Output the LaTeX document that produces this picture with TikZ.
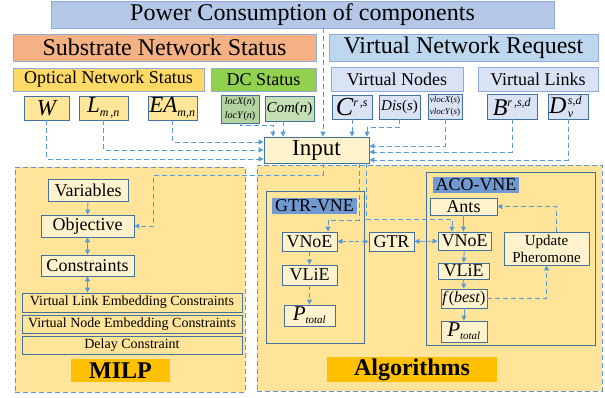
\documentclass[tikz,border=0pt]{standalone}
\usepackage{fontspec}
\setmainfont{Liberation Serif}
\usetikzlibrary{arrows.meta}
\definecolor{titlebl}{HTML}{B4C7E7}
\definecolor{orng}{HTML}{F4B183}
\definecolor{vnr}{HTML}{BDD7EE}
\definecolor{ylw}{HTML}{FFD966}
\definecolor{grn}{HTML}{92D050}
\definecolor{lbl}{HTML}{DAE3F3}
\definecolor{lylw}{HTML}{FFE699}
\definecolor{lgrn}{HTML}{C5E0B4}
\definecolor{mgrn}{HTML}{B3D3A0}
\definecolor{cream}{HTML}{FFF2CC}
\definecolor{regfill}{HTML}{FFE499}
\definecolor{gold}{HTML}{FFC000}
\definecolor{steel}{HTML}{7199D1}
\definecolor{edge}{HTML}{5B9BD5}
\definecolor{bord}{HTML}{41719C}
\definecolor{lbord}{HTML}{8FAADC}
\newcommand\mybox[7]{\node[#1, inner sep=0pt, minimum width=#5pt-#3pt, minimum height=#6pt-#4pt] (#2) at ({(#3+#5)/2},{(#4+#6)/2}) {#7};}
\newcommand\fs[1]{\fontsize{#1}{#1}\selectfont}
\tikzset{
  bx/.style={draw=bord, line width=0.8pt, align=center},
  bigbx/.style={draw=lbord, line width=0.8pt, font=\fs{24}},
  midbx/.style={draw=lbord, line width=0.8pt, font=\fs{18}},
  region/.style={draw=edge!80!gray, line width=1pt, dash pattern=on 5pt off 3pt, fill=regfill},
  tip/.style={-{Triangle[length=5pt,width=5pt]}},
  dl/.style={draw=edge, line width=0.9pt, dash pattern=on 5pt off 3pt, tip},
  sl/.style={draw=edge, line width=0.9pt, tip},
  dsl/.style={draw=edge, line width=0.9pt, {Triangle[length=5pt,width=5pt]}-{Triangle[length=5pt,width=5pt]}},
  ddl/.style={draw=edge, line width=0.9pt, dash pattern=on 4pt off 2.5pt, {Triangle[length=5pt,width=5pt]}-{Triangle[length=5pt,width=5pt]}},
}
\begin{document}
\begin{tikzpicture}[x=1pt,y=-1pt]
\useasboundingbox (0,0) rectangle (605,397);
% top
\mybox{bigbx, fill=titlebl}{title}{51}{1}{554}{28}{Power Consumption of components}
\mybox{bigbx, fill=orng}{sns}{13}{34}{316}{61}{Substrate Network Status}
\mybox{bigbx, fill=vnr}{vnr}{329}{34}{598}{61}{Virtual Network Request}
\mybox{midbx, fill=ylw}{ons}{13}{68}{204}{91}{Optical Network Status}
\mybox{midbx, fill=grn}{dcs}{211}{68}{316}{91}{DC Status}
\mybox{midbx, fill=lbl}{vn}{331}{67}{463}{91}{Virtual Nodes}
\mybox{midbx, fill=lbl}{vl}{478}{67}{598}{91}{Virtual Links}
% parameters
\mybox{bx, fill=lylw, font=\fs{23}\itshape}{W}{24}{96}{69}{120}{W}
\mybox{bx, fill=lylw, font=\fs{23}\itshape}{L}{79}{96}{128}{120}{L\textsubscript{\fs{12}m\,,n}}
\mybox{bx, fill=lylw, font=\fs{23}\itshape}{EA}{148}{96}{197}{120}{EA\textsubscript{\fs{12}m,n}}
\mybox{bx, fill=mgrn, font=\fontsize{10}{14}\selectfont\itshape}{loc}{221}{95}{259}{123}{locX\/\upshape(\itshape n\upshape)\\ \itshape locY\/\upshape(\itshape n\upshape)}
\mybox{bx, fill=lgrn, font=\fs{15}\itshape}{com}{265}{96}{314}{121}{Com\/\upshape(\itshape n\upshape)}
\mybox{bx, fill=lbl, font=\fs{26}\itshape}{C}{332}{95}{372}{119}{C\textsuperscript{\fs{12}r\,,s}}
\mybox{bx, fill=lbl, font=\fs{15}\itshape}{dis}{379}{95}{420}{119}{Dis\/\upshape(\itshape s\upshape)}
\mybox{bx, fill=lbl, font=\fontsize{9}{12}\selectfont\itshape}{vloc}{428}{94}{462}{119}{vlocX\/\upshape(\itshape s\upshape)\\ \itshape vlocY\/\upshape(\itshape s\upshape)}
\mybox{bx, fill=lbl, font=\fs{24}\itshape}{B}{487}{94}{537}{119}{B\textsuperscript{\fs{12}r\,,s,d}}
\mybox{bx, fill=lbl, font=\fs{24}\itshape}{D}{548}{94}{588}{119}{D\kern1.5pt\rlap{\raisebox{9pt}{\fs{12}s,d}}\raisebox{-4pt}{\fs{12}v}\hphantom{\fs{12}s,d}}
% input
\mybox{bx, fill=cream, font=\fs{23}}{input}{264}{137}{369}{163}{Input}
% regions
\mybox{region}{milpreg}{15}{167}{245}{392}{}
\mybox{region}{algreg}{257}{165}{602}{391}{}
% MILP
\mybox{bx, fill=cream, font=\fs{18}}{vars}{48}{179}{128}{201}{Variables}
\mybox{bx, fill=cream, font=\fs{18}}{obj}{41}{215}{134}{237}{Objective}
\mybox{bx, fill=cream, font=\fs{18}}{cons}{41}{255}{134}{276}{Constraints}
\mybox{bx, font=\fs{14}}{vlec}{22}{293}{242}{312}{Virtual Link Embedding Constraints}
\mybox{bx, font=\fs{14}}{vnec}{22}{315}{242}{333}{Virtual Node Embedding Constraints}
\mybox{bx, font=\fs{14}}{delay}{22}{336}{242}{354}{Delay Constraint}
\mybox{fill=gold, font=\fs{24}\bfseries}{milp}{71}{359}{170}{382}{MILP}
% GTR-VNE
\mybox{bx}{gtrbox}{266}{191}{364}{343}{}
\mybox{fill=steel, font=\fs{18}}{gtrlab}{272}{198}{357}{214}{GTR-VNE}
\mybox{bx, fill=cream, font=\fs{18}}{gvnoe}{282}{232}{337}{251}{VNoE}
\mybox{bx, fill=cream, font=\fs{18}}{gtr}{369}{232}{414}{251}{GTR}
\mybox{bx, fill=cream, font=\fs{18}}{gvlie}{282}{265}{337}{285}{VLiE}
\mybox{bx, fill=cream, font=\fs{21}\itshape}{gp}{284}{305}{335}{326}{P\textsubscript{\fs{11}total}}
% ACO-VNE
\mybox{bx}{acobox}{426}{172}{595}{345}{}
\mybox{fill=steel, font=\fs{18}}{acolab}{433}{177}{519}{193}{ACO-VNE}
\mybox{bx, fill=cream, font=\fs{18}}{ants}{430}{198}{497}{215}{Ants}
\mybox{bx, fill=cream, font=\fs{18}}{avnoe}{438}{232}{491}{250}{VNoE}
\mybox{bx, fill=cream, font=\fs{18}}{avlie}{438}{263}{489}{279}{VLiE}
\mybox{bx, fill=cream, font=\fs{16}\itshape}{fb}{441}{289}{487}{308}{f\/\upshape(\itshape best\/\upshape)}
\mybox{bx, fill=cream, font=\fs{21}\itshape}{ap}{441}{321}{487}{342}{P\textsubscript{\fs{11}total}}
\mybox{bx, fill=cream, font=\fontsize{15}{17}\selectfont}{upd}{504}{232}{589}{265}{Update\\Pheromone}
\mybox{fill=gold, font=\fs{24}\bfseries}{alg}{327}{357}{497}{382}{Algorithms}
% connectors into Input
\draw[dl] (W.south) |- ([yshift=-9pt]input.west);
\draw[dl] (L.south) |- (input.west);
\draw[dl] (EA.south) |- ([yshift=8pt]input.west);
\draw[dl] (loc.south) -- ++(0,2) -| ([xshift=-43.5pt]input.north);
\draw[dl] ([xshift=-33.5pt]input.north |- com.south) -- ([xshift=-33.5pt]input.north);
\draw[dl] ([xshift=6.5pt]input.north |- title.south) -- ([xshift=6.5pt]input.north);
\draw[dl] (C.south) -- (C.south |- input.north);
\draw[dl] (dis.south) -- ++(0,8) -| ([xshift=50.5pt]input.north);
\draw[dl] (vloc.south) |- ([yshift=4pt]input.east);
\draw[dl] (B.south) |- ([yshift=-2pt]input.east);
\draw[dl] (D.south) |- ([yshift=-10pt]input.east);
% from Input
\draw[dl] ([xshift=6.5pt]input.south) -- ++(0,12) -| ([xshift=19pt,yshift=-11pt]obj.north east) |- (obj.east);
\draw[dl] ([xshift=42.5pt]input.south) |- ([xshift=18.5pt,yshift=11pt]gvnoe.north) -- ([xshift=18.5pt]gvnoe.north);
\draw[dl] ([xshift=49.5pt]input.south) |- ([xshift=-12.5pt,yshift=12pt]avnoe.north) -- ([xshift=-12.5pt]avnoe.north);
% MILP arrows
\draw[sl] (vars) -- (obj);
\draw[dsl] (obj) -- (cons);
\draw[dsl] (cons.south) -- (cons.south |- vlec.north);
% GTR arrows
\draw[ddl] (gvnoe) -- (gtr);
\draw[dsl] (gtr) -- (avnoe);
\draw[dl] (gvnoe) -- (gvlie);
\draw[dl] (gvlie) -- (gp);
% ACO arrows
\draw[sl] (ants.south) -- (ants.south |- avnoe.north);
\draw[sl] (avnoe) -- (avlie);
\draw[sl] (avlie) -- (fb);
\draw[sl] (fb) -- (ap);
\draw[dl] (fb.east) -| (upd.south);
\draw[dl] ([xshift=10pt]upd.north) |- (ants.east);
\end{tikzpicture}
\end{document}
